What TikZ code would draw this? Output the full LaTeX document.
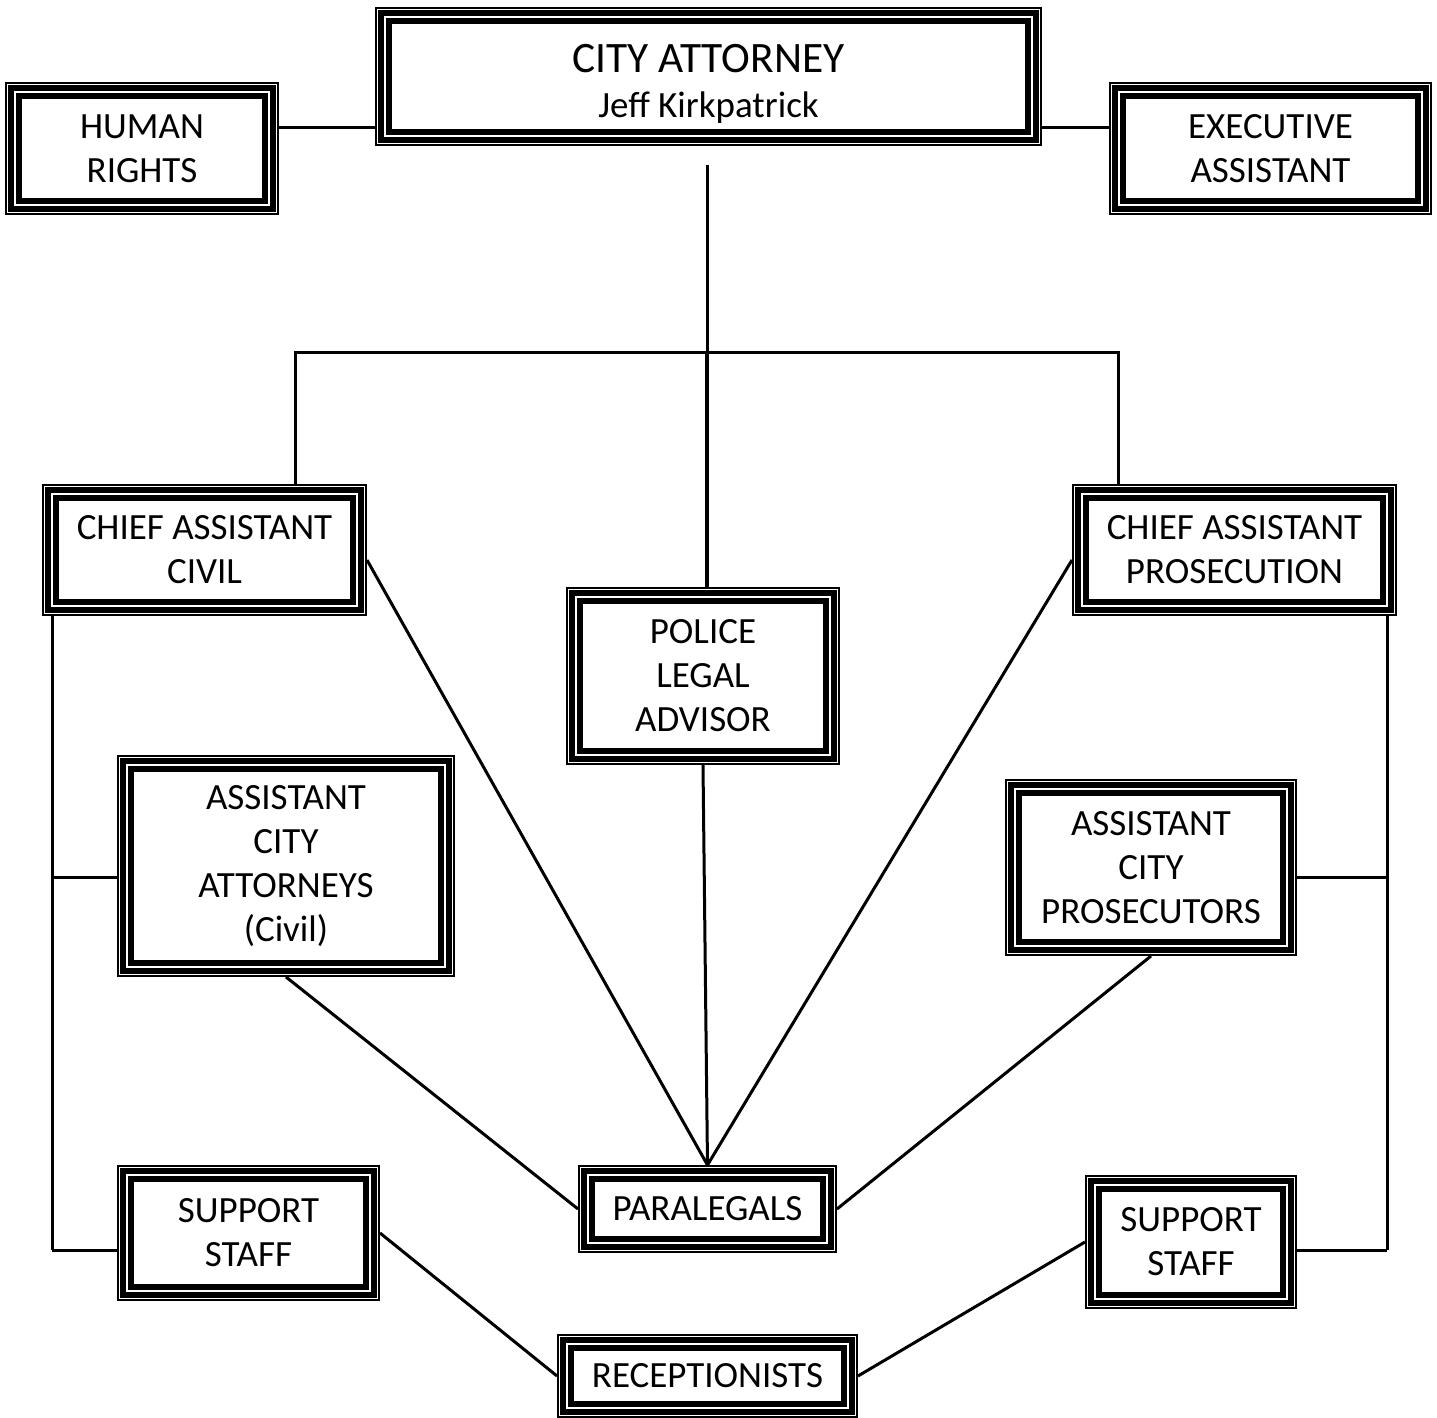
\documentclass[tikz,border=0pt]{standalone}
\usepackage{fontspec}
\setmainfont{Carlito}
\usepackage{tikz}

\newcommand\boxlines[1]{%
  \draw[white, line width=0.5pt] ([shift={(1.25pt,1.25pt)}]#1.south west) rectangle ([shift={(-1.25pt,-1.25pt)}]#1.north east);
  \draw[white, line width=0.75pt] ([shift={(5.1pt,5.1pt)}]#1.south west) rectangle ([shift={(-5.1pt,-5.1pt)}]#1.north east);}

\begin{document}
\begin{tikzpicture}[x=0.5pt, y=-0.5pt,
    box/.style = {draw, line width=8.5pt, inner sep=0pt, align=center,
                  font=\fontsize{18.5}{22}\selectfont},
    link/.style = {line width=1.5pt}]
        \useasboundingbox (0,0) rectangle (1437,1418);

        \node[box, minimum width=325pt, minimum height=61pt] at (708.5, 76.5) (ca)
            {{\fontsize{21.7}{23}\selectfont\rule{0pt}{21.5pt}CITY ATTORNEY}\\[0.5pt]Jeff Kirkpatrick};
        \node[box, minimum width=128.5pt, minimum height=58pt] at (142, 148.5) (hr) {HUMAN\\RIGHTS};
        \node[box, minimum width=153pt, minimum height=58pt] at (1270.5, 148.5) (ea) {EXECUTIVE\\ASSISTANT};
        \node[box, minimum width=154pt, minimum height=57.5pt] at (204.5, 550) (cac) {CHIEF ASSISTANT\\CIVIL};
        \node[box, minimum width=154pt, minimum height=57.5pt] at (1234.5, 550) (cap) {CHIEF ASSISTANT\\PROSECUTION};
        \node[box, minimum width=128.5pt, minimum height=80.5pt] at (703, 676) (pla) {POLICE\\LEGAL\\ADVISOR};
        \node[box, minimum width=160.5pt, minimum height=102.5pt] at (286, 866) (aca) {ASSISTANT\\CITY\\ATTORNEYS\\(Civil)};
        \node[box, minimum width=137.5pt, minimum height=80pt] at (1151, 867.5) (acp) {ASSISTANT\\CITY\\PROSECUTORS};
        \node[box, minimum width=121pt, minimum height=35.5pt] at (707.5, 1209) (par) {PARALEGALS};
        \node[box, minimum width=123pt, minimum height=59.5pt] at (248.5, 1233) (ssl) {SUPPORT\\STAFF};
        \node[box, minimum width=97.5pt, minimum height=58.5pt] at (1191, 1242) (ssr) {SUPPORT\\STAFF};
        \node[box, minimum width=142pt, minimum height=33.5pt] at (707.5, 1376) (rec) {RECEPTIONISTS};

        \foreach \n in {ca, hr, ea, cac, cap, pla, aca, acp, par, ssl, ssr, rec} {\boxlines{\n}}

        % top row
        \draw[link] ([yshift=10.25pt]hr.east) -- ([yshift=10.25pt]hr.east -| ca.west);
        \draw[link] ([yshift=10.25pt]ea.west) -- ([yshift=10.25pt]ea.west -| ca.east);

        % bus under the city attorney
        \coordinate (drop) at (707, 165);
        \coordinate (bus) at (707, 352);
        \coordinate (busl) at (295, 352);
        \coordinate (busr) at (1118, 352);
        \draw[link] (drop) -- (bus);
        \draw[line width=2.3pt] (bus) -- (bus |- pla.north);
        \draw[link] (busl |- cac.north) -- (busl) -- (busr) -- (busr |- cap.north);

        % side rails
        \coordinate (raill) at (52, 877);
        \coordinate (raillb) at (52, 1250);
        \coordinate (railr) at (1387, 877);
        \coordinate (railrb) at (1387, 1250);
        \draw[link] (raill |- cac.south) -- (raillb);
        \draw[link] (raill) -- (raill -| aca.west);
        \draw[link] (raillb) -- (raillb -| ssl.west);
        \draw[link] (railr |- cap.south) -- (railrb);
        \draw[link] (railr) -- (railr -| acp.east);
        \draw[link] (railrb) -- (railrb -| ssr.east);

        % to the paralegals
        \draw[link] ([yshift=-5pt]cac.east) -- (par.north);
        \draw[link] ([yshift=-5pt]cap.west) -- (par.north);
        \draw[link] (pla.south) -- (par.north);
        \draw[link] (aca.south) -- (par.west);
        \draw[link] (acp.south) -- (par.east);

        % to the receptionists
        \draw[link] (ssl.east) -- (rec.west);
        \draw[link] (ssr.west) -- (rec.east);
\end{tikzpicture}
\end{document}
